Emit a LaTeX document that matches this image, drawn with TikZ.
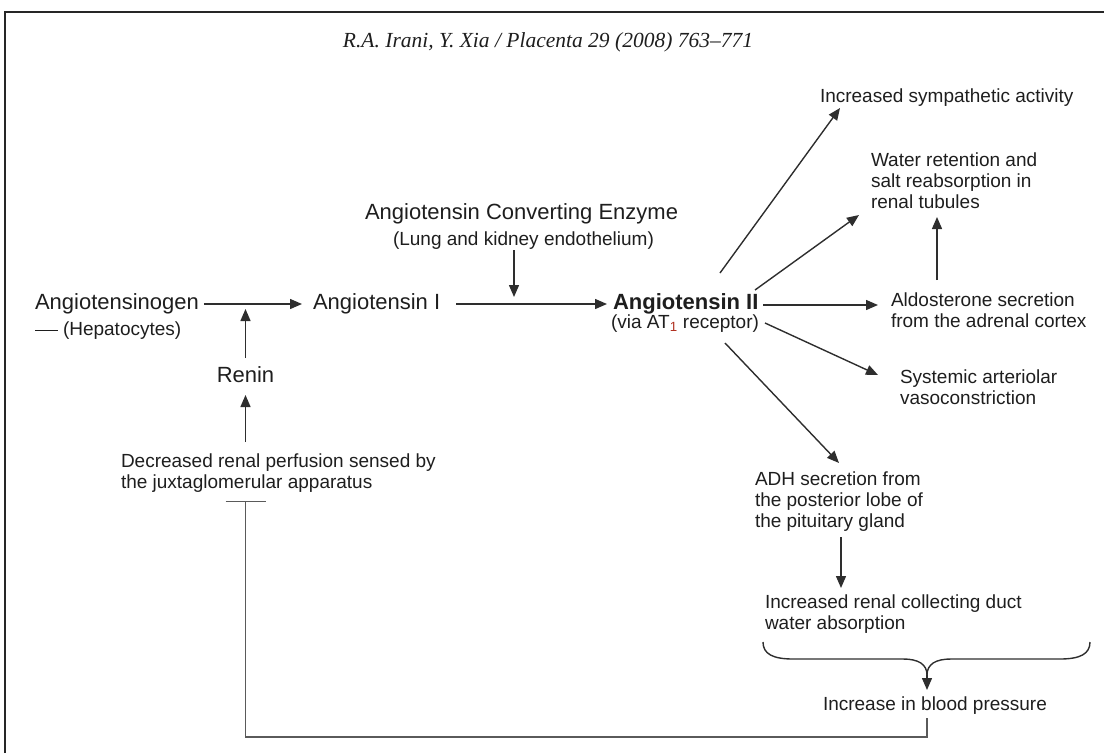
\documentclass[tikz,border=0pt]{standalone}
\usepackage{fontspec}
\setmainfont{Liberation Sans}
\newfontfamily\hdrfont{Liberation Serif}
\usetikzlibrary{arrows.meta,calc}
\definecolor{txt}{HTML}{1E1E1E}
\definecolor{lncol}{HTML}{2E2E2E}
\definecolor{fbcol}{HTML}{5A5A5A}
\definecolor{subred}{HTML}{B03020}
\newcommand\mlines[1]{\begin{tabular}[t]{@{}l@{}}#1\end{tabular}}
\begin{document}
\begin{tikzpicture}[x=1pt,y=-1pt,
  bigtxt/.style={font=\fontsize{22}{26}\selectfont, inner sep=0pt, outer sep=0pt, text=txt, anchor=base west},
  smalltxt/.style={font=\fontsize{19}{21}\selectfont, inner sep=0pt, outer sep=0pt, text=txt, anchor=base west},
  arr/.style={draw=lncol, line width=1.4pt, -{Triangle[length=12pt,width=10pt]}},
  fb/.style={draw=fbcol, line width=1.4pt},
  bracestyle/.style={draw=lncol, line width=1.4pt}]
\useasboundingbox (0,0) rectangle (1104,753);
% frame
\draw[line width=1.8pt, draw=black!85] (5,753) -- (5,12) -- (1104,12);
\node[font=\hdrfont\itshape\fontsize{21.5}{25}\selectfont, text=txt, inner sep=0pt, anchor=base] (hdr) at (548,47) {R.A. Irani, Y. Xia / Placenta 29 (2008) 763–771};

% nodes
\node[bigtxt] (agen) at (35,309) {Angiotensinogen};
\node[smalltxt] (hep) at (35,335) {\rule[4pt]{23pt}{1.4pt}\hspace{5pt}(Hepatocytes)};
\node[bigtxt] (ang1) at (313,309) {Angiotensin I};
\node[bigtxt, anchor=base] (renin) at (245.5,382) {Renin};
\node[smalltxt] (dec) at (121,467) {\mlines{Decreased renal perfusion sensed by\\the juxtaglomerular apparatus}};
\node[bigtxt] (ace) at (365,219) {Angiotensin Converting Enzyme};
\node[smalltxt] (lung) at (393,245) {(Lung and kidney endothelium)};
\node[bigtxt, font=\fontsize{22}{26}\selectfont\bfseries] (ang2) at (613,309) {Angiotensin II};
\node[smalltxt] (via) at (611,328) {(via AT\textsubscript{{\color{subred}1}} receptor)};
\node[smalltxt] (symp) at (820,102) {Increased sympathetic activity};
\node[smalltxt] (water) at (871,166) {\mlines{Water retention and\\salt reabsorption in\\renal tubules}};
\node[smalltxt] (aldo) at (891,306) {\mlines{Aldosterone secretion\\from the adrenal cortex}};
\node[smalltxt] (syst) at (900,383) {\mlines{Systemic arteriolar\\vasoconstriction}};
\node[smalltxt] (adh) at (755,485) {\mlines{ADH secretion from\\the posterior lobe of\\the pituitary gland}};
\node[smalltxt] (inc) at (765,608) {\mlines{Increased renal collecting duct\\water absorption}};
\node[smalltxt] (bp) at (823,710) {Increase in blood pressure};

% junction points on arrows
\coordinate (j) at ($(renin.base)+(0,-78)$);
\coordinate (k) at ($(lung.base west)+(121,59)$);

% connectors
\draw[arr] ($(agen.base east)+(5,-5)$) -- ($(ang1.base west)+(-11,-5)$);
\draw[arr] ($(renin.base)+(0,-24)$) -- ($(j)+(0,5)$);
\draw[arr] ($(renin.base |- dec.base)+(0,-25)$) -- ($(renin.base)+(0,13)$);
\draw[arr] ($(lung.base west)+(121,5)$) -- ($(k)+(0,-7)$);
\draw[arr] ($(ang1.base west)+(143,-5)$) -- ($(ang2.base west)+(-6,-5)$);
\draw[arr] ($(ang2.base west)+(107,-36)$) -- ($(symp.base west)+(20,6)$);
\draw[arr] ($(ang2.base west)+(142,-19)$) -- ($(water.base west)+(-12,49)$);
\draw[arr] ($(ang2.base west)+(150,-4)$) -- ($(aldo.base west)+(-13,-1)$);
\draw[arr] ($(aldo.base west)+(46,-26)$) -- ($(water.base west)+(66,51)$);
\draw[arr] ($(ang2.base west)+(152,14)$) -- ($(syst.base west)+(-22,-8)$);
\draw[arr] ($(ang2.base west)+(112,34)$) -- ($(adh.base west)+(84,-22)$);
\draw[arr] ($(adh.base west)+(86,52)$) -- ($(inc.base west)+(76,-20)$);

% brace
\coordinate (bl) at ($(inc.base west)+(-2,34)$);
\coordinate (br) at ($(inc.base west)+(325,34)$);
\coordinate (bt) at ($(inc.base west)+(162,67)$);
\draw[bracestyle] (bl) .. controls ($(bl)+(0,12)$) and ($(bl)+(10,17)$) .. ($(bl)+(30,17)$)
   -- ($(bt)+(-24,-16)$) .. controls ($(bt)+(-9,-16)$) and ($(bt)+(0,-11)$) .. (bt);
\draw[bracestyle] (br) .. controls ($(br)+(0,12)$) and ($(br)+(-10,17)$) .. ($(br)+(-30,17)$)
   -- ($(bt)+(24,-16)$) .. controls ($(bt)+(9,-16)$) and ($(bt)+(0,-11)$) .. (bt);
\draw[arr] (bt) -- ($(bp.base west)+(104,-20)$);

% feedback inhibition
\draw[fb, -{Bar[width=40pt,line width=1.4pt]}] ($(bp.base west)+(104,8)$) |- ($(renin.base)+(0,355)$) -- ($(renin.base |- dec.base)+(0,34)$);
\end{tikzpicture}
\end{document}
